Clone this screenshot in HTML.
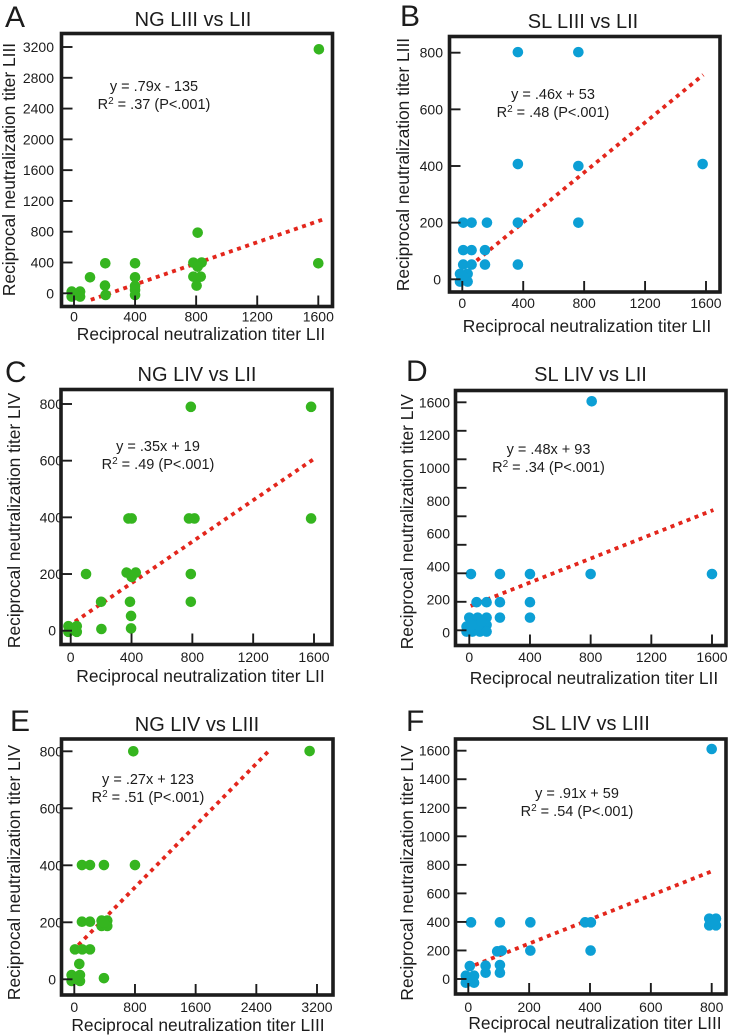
<!DOCTYPE html>
<html>
<head>
<meta charset="utf-8">
<title>Reciprocal neutralization titer correlations</title>
<style>
html,body{margin:0;padding:0;background:#fff;width:729px;height:1035px;overflow:hidden}
svg{display:block;font-family:"Liberation Sans",sans-serif;fill:#1c1c1c}
.letter{font-size:30px}
.title{font-size:20px;text-anchor:middle}
.axis{font-size:17.4px;text-anchor:middle}
.note{font-size:14.5px;text-anchor:middle}
.sup{font-size:10px}
.tick{font-size:14px}
</style>
</head>
<body>
<svg id="fig" width="729" height="1035" viewBox="0 0 729 1035" xmlns="http://www.w3.org/2000/svg">
  <g id="panel-a">
    <text class="letter" x="5" y="27">A</text>
    <text class="title" x="193" y="26">NG LIII vs LII</text>
    <text class="axis" x="201" y="340">Reciprocal neutralization titer LII</text>
    <text class="axis" transform="translate(15 169.5) rotate(-90)">Reciprocal neutralization titer LIII</text>
    <text class="note" x="154" y="91">y = .79x - 135</text>
    <text class="note" x="154" y="109">R<tspan class="sup" dy="-5">2</tspan><tspan dy="5"> = .37 (P&lt;.001)</tspan></text>
  </g>
  <g id="panel-b">
    <text class="letter" x="400" y="26">B</text>
    <text class="title" x="583" y="28">SL LIII vs LII</text>
    <text class="axis" x="587" y="332">Reciprocal neutralization titer LII</text>
    <text class="axis" transform="translate(409 164.5) rotate(-90)">Reciprocal neutralization titer LIII</text>
    <text class="note" x="553" y="99">y = .46x + 53</text>
    <text class="note" x="553" y="117">R<tspan class="sup" dy="-5">2</tspan><tspan dy="5"> = .48 (P&lt;.001)</tspan></text>
  </g>
  <g id="panel-c">
    <text class="letter" x="5" y="382">C</text>
    <text class="title" x="197" y="381">NG LIV vs LII</text>
    <text class="axis" x="200.5" y="682">Reciprocal neutralization titer LII</text>
    <text class="axis" transform="translate(20 520.5) rotate(-90)">Reciprocal neutralization titer LIV</text>
    <text class="note" x="158" y="451">y = .35x + 19</text>
    <text class="note" x="158" y="469">R<tspan class="sup" dy="-5">2</tspan><tspan dy="5"> = .49 (P&lt;.001)</tspan></text>
  </g>
  <g id="panel-d">
    <text class="letter" x="406" y="381">D</text>
    <text class="title" x="590.5" y="381">SL LIV vs LII</text>
    <text class="axis" x="594" y="684">Reciprocal neutralization titer LII</text>
    <text class="axis" transform="translate(413 521.7) rotate(-90)">Reciprocal neutralization titer LIV</text>
    <text class="note" x="548.5" y="454">y = .48x + 93</text>
    <text class="note" x="548.5" y="472">R<tspan class="sup" dy="-5">2</tspan><tspan dy="5"> = .34 (P&lt;.001)</tspan></text>
  </g>
  <g id="panel-e">
    <text class="letter" x="10" y="731">E</text>
    <text class="title" x="197" y="731">NG LIV vs LIII</text>
    <text class="axis" x="198" y="1031">Reciprocal neutralization titer LIII</text>
    <text class="axis" transform="translate(20 872.5) rotate(-90)">Reciprocal neutralization titer LIV</text>
    <text class="note" x="148" y="784">y = .27x + 123</text>
    <text class="note" x="148" y="802">R<tspan class="sup" dy="-5">2</tspan><tspan dy="5"> = .51 (P&lt;.001)</tspan></text>
  </g>
  <g id="panel-f">
    <text class="letter" x="406" y="731">F</text>
    <text class="title" x="590.7" y="730">SL LIV vs LIII</text>
    <text class="axis" x="595" y="1029">Reciprocal neutralization titer LIII</text>
    <text class="axis" transform="translate(413 873) rotate(-90)">Reciprocal neutralization titer LIV</text>
    <text class="note" x="577" y="798">y = .91x + 59</text>
    <text class="note" x="577" y="816">R<tspan class="sup" dy="-5">2</tspan><tspan dy="5"> = .54 (P&lt;.001)</tspan></text>
  </g>
</svg>
<script>
// Panel A: NG LIII vs LII
var aXTicks = [0, 400, 800, 1200, 1600];
var aYTicks = [0, 400, 800, 1200, 1600, 2000, 2400, 2800, 3200];
var aYLabels = ["0", "400", "800", "1200", "1600", "2000", "2400", "2800", "3200"];
var aPointsX = [1604, 1600, 810, 782, 836, 810, 782, 830, 803, 400, 400, 400, 400, 400, 205, 203, 207, 105, -15, 40, -15, 40, 13, 0];
var aPointsY = [3170, 390, 788, 398, 400, 346, 216, 216, 100, 390, 208, 95, 43, -22, 390, 100, -22, 208, 22, 22, -43, -43, -22, 0];
var aFitX = [110, 1625];
var aFitY = [-85, 955];
// Panel B: SL LIII vs LII
var bXTicks = [0, 400, 800, 1200, 1600];
var bYTicks = [0, 200, 400, 600, 800];
var bYLabels = ["0", "200", "400", "600", "800"];
var bPointsX = [365, 762, 365, 762, 1578, 365, 762, 365, 6, 61, 162, 6, 61, 149, 6, 61, 149, -15, 35, -15, 35, 6];
var bPointsY = [802, 802, 407, 400, 407, 200, 200, 52, 200, 200, 200, 103, 103, 103, 52, 52, 52, 19, 19, -8, -8, 9];
var bFitX = [94, 1582];
var bFitY = [66, 722];
// Panel C: NG LIV vs LII
var cXTicks = [0, 400, 800, 1200, 1600];
var cYTicks = [0, 200, 400, 600, 800];
var cYLabels = ["0", "200", "400", "600", "800"];
var cPointsX = [790, 1581, 380, 401, 778, 814, 1581, 368, 428, 401, 790, 790, 101, 200, 390, 397, 397, 202, -15, 40, -15, 40, 13];
var cPointsY = [790, 790, 396, 396, 396, 396, 396, 205, 205, 190, 200, 102, 200, 102, 102, 52, 8, 6, 16, 16, -4, -4, 5];
var cFitX = [28, 1596];
var cFitY = [32, 605];
// Panel D: SL LIV vs LII
var dXTicks = [0, 400, 800, 1200, 1600];
var dYTicks = [0, 200, 400, 600, 800, 1000, 1200, 1400, 1600];
var dYLabels = ["0", "200", "400", "600", "800", "1000", "1200", "1600"];
var dPointsX = [807, 1600, 800, 400, 202, 11, 400, 202, 400, 202, 48, 114, 0, 55, 114, -18, 37, 114, -18, 20, 70, 114, 60, 15, 81];
var dPointsY = [1607, 395, 395, 395, 395, 395, 197, 197, 89, 89, 197, 197, 89, 89, 89, 26, 37, 37, -9, -9, -9, -9, 37, 37, 60];
var dFitX = [9, 1609];
var dFitY = [171, 844];
// Panel E: NG LIV vs LIII
var eXTicks = [0, 800, 1600, 2400, 3200];
var eYTicks = [0, 200, 400, 600, 800];
var eYLabels = ["0", "200", "400", "600", "800"];
var ePointsX = [778, 3103, 101, 207, 391, 800, 101, 207, 360, 435, 360, 435, 391, 9, 105, 207, 66, 391, -35, 75, -35, 75, 22];
var ePointsY = [800, 801, 401, 401, 401, 401, 202, 202, 206, 206, 187, 187, 199, 105, 105, 105, 54, 4, 15, 15, -6, -6, 4];
var eFitX = [53, 2563];
var eFitY = [120, 801];
// Panel F: SL LIV vs LIII
var fXTicks = [0, 200, 400, 600, 800];
var fYTicks = [0, 200, 400, 600, 800, 1000, 1200, 1400, 1600];
var fYLabels = ["0", "200", "400", "600", "800", "1000", "1200", "1400", "1600"];
var fPointsX = [800, 792, 814, 792, 814, 803, 9, 104, 204, 384, 403, 402, 204, 95, 110, 104, 104, 57, 57, 5, -8, 19, -8, 19, 5];
var fPointsY = [1612, 423, 423, 376, 376, 400, 397, 397, 397, 397, 397, 199, 199, 194, 199, 98, 44, 93, 44, 91, 23, 23, -26, -26, 5];
var fFitX = [22, 805];
var fFitY = [98, 759];

var GREEN = "#35b51f";
var BLUE = "#0c9fd5";

var layouts = {
  a: {frame:[61.5,33.5,332.5,306.5], sx:[74,318.3,1600], sy:[293.3,47,3200], tickBase:321.7, labelRight:54, zeroShift:0, color:GREEN},
  b: {frame:[449.5,36.5,720,292], sx:[462.3,706,1600], sy:[279.3,52.7,800], tickBase:308, labelRight:443, zeroShift:-2, color:BLUE},
  c: {frame:[61,389.5,332,644.5], sx:[70.7,314,1600], sy:[630.7,404,800], tickBase:662, labelRight:63, zeroShift:-7, color:GREEN},
  d: {frame:[455.5,390.5,726,645.5], sx:[469.3,712,1600], sy:[630.3,402.3,1600], tickBase:662, labelRight:450, zeroShift:0, color:BLUE, evenLabels:true},
  e: {frame:[61.5,739,333,995], sx:[74.3,317,3200], sy:[979.3,751.3,800], tickBase:1012, labelRight:63, zeroShift:-7, color:GREEN},
  f: {frame:[455.5,739,726,994], sx:[468.3,711.7,800], sy:[979,750.7,1600], tickBase:1012, labelRight:450, zeroShift:0, color:BLUE}
};

var NS = "http://www.w3.org/2000/svg";
function make(tag, attrs, parent) {
  var el = document.createElementNS(NS, tag);
  for (var k in attrs) el.setAttribute(k, attrs[k]);
  parent.appendChild(el);
  return el;
}
function scaleX(L, v) { return L.sx[0] + (L.sx[1] - L.sx[0]) * v / L.sx[2]; }
function scaleY(L, v) { return L.sy[0] + (L.sy[1] - L.sy[0]) * v / L.sy[2]; }

function drawPanel(key, xTicks, yTicks, yLabels, px, py, fitX, fitY) {
  var L = layouts[key];
  var g = document.getElementById("panel-" + key);
  var f = L.frame;
  var ink = "#1c1c1c";

  var fit = make("line", {x1:scaleX(L, fitX[0]), y1:scaleY(L, fitY[0]), x2:scaleX(L, fitX[1]), y2:scaleY(L, fitY[1]), stroke:"#e3261c", "stroke-width":3.8, "stroke-dasharray":"4 4.6"}, g);
  
  

  for (var i = 0; i < px.length; i++) {
    var dot = make("circle", {cx:scaleX(L, px[i]), cy:scaleY(L, py[i]), r:5.3, fill:L.color}, g);
    
    
  }

  var frame = make("rect", {x:f[0], y:f[1], width:f[2]-f[0], height:f[3]-f[1], fill:"none", stroke:ink, "stroke-width":3.6}, g);
  
  

  xTicks.forEach(function (v) {
    var X = scaleX(L, v);
    var t = make("line", {x1:X, x2:X, y1:f[3], y2:f[3]-11, stroke:ink, "stroke-width":1.9}, g);
    
    
    var lab = make("text", {"class":"tick", x:X, y:L.tickBase, "text-anchor":"middle"}, g);
    
    
    lab.textContent = String(v);
  });

  yTicks.forEach(function (v) {
    var Y = scaleY(L, v);
    var t = make("line", {x1:f[0], x2:f[0]+11, y1:Y, y2:Y, stroke:ink, "stroke-width":1.9}, g);
    
    
  });

  yLabels.forEach(function (s, i) {
    var v = L.evenLabels ? i * L.sy[2] / (yLabels.length - 1) : Number(s);
    var Y = scaleY(L, v) + 5;
    if (L.evenLabels && i < yLabels.length - 1) Y += 2 * (1 - i / (yLabels.length - 1));
    var X = L.labelRight + (s === "0" ? L.zeroShift : 0);
    var lab = make("text", {"class":"tick", x:X, y:Y, "text-anchor":"end"}, g);
    
    
    lab.textContent = s;
  });
}

drawPanel("a", aXTicks, aYTicks, aYLabels, aPointsX, aPointsY, aFitX, aFitY);
drawPanel("b", bXTicks, bYTicks, bYLabels, bPointsX, bPointsY, bFitX, bFitY);
drawPanel("c", cXTicks, cYTicks, cYLabels, cPointsX, cPointsY, cFitX, cFitY);
drawPanel("d", dXTicks, dYTicks, dYLabels, dPointsX, dPointsY, dFitX, dFitY);
drawPanel("e", eXTicks, eYTicks, eYLabels, ePointsX, ePointsY, eFitX, eFitY);
drawPanel("f", fXTicks, fYTicks, fYLabels, fPointsX, fPointsY, fFitX, fFitY);
</script>
</body>
</html>
